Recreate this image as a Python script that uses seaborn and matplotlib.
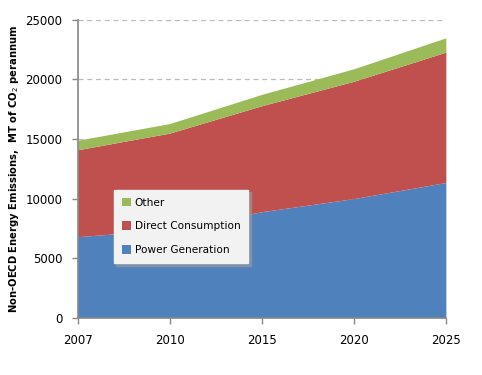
import matplotlib
matplotlib.use("Agg")
import matplotlib.pyplot as plt
import seaborn as sns
import numpy as np
import pandas as pd
from matplotlib.patches import Patch

years = ["2007", "2010", "2015", "2020", "2025"]
power_generation = [6800, 7400, 8900, 10000, 11350]
direct_consumption = [7300, 8100, 8900, 9850, 10950]
other = [800, 800, 950, 1050, 1200]
y_ticks = [0, 5000, 10000, 15000, 20000, 25000]

series_names = ["Power Generation", "Direct Consumption", "Other"]
colors = ["#4F81BD", "#C0504D", "#9BBB59"]

sns.set_style("white")
plt.rcParams["font.family"] = ["DejaVu Sans"]
plt.rcParams["text.color"] = "black"
plt.rcParams["xtick.labelcolor"] = "black"
plt.rcParams["ytick.labelcolor"] = "black"

df = pd.DataFrame({"year": years,
                   "Power Generation": power_generation,
                   "Direct Consumption": direct_consumption,
                   "Other": other})
x = np.arange(len(years))

fig = plt.figure(figsize=(4.82, 3.75), dpi=100)
ax = fig.add_axes([0.161, 0.1528, 0.764, 0.794])

for yv in y_ticks[1:]:
    ax.axhline(yv, color="#BBBBBB", lw=0.9, ls=(0, (4, 3)), zorder=0)

base = np.zeros(len(years))
for name, c in zip(series_names, colors):
    top = base + df[name].to_numpy()
    ax.fill_between(x, base, top, color=c, lw=0, zorder=2)
    base = top

ax.set_xlim(0, len(years) - 1)
ax.set_ylim(0, 25000)
ax.set_xticks(x)
ax.set_xticklabels(years)
ax.set_yticks(y_ticks)
ax.tick_params(axis="x", length=4, width=1, color="#888888", pad=8, labelsize=8.5, direction="out", bottom=True)
ax.tick_params(axis="y", length=4, width=1, color="#888888", pad=7, labelsize=8.5, direction="out", left=True)
for s in ["top", "right"]:
    ax.spines[s].set_visible(False)
for s in ["left", "bottom"]:
    ax.spines[s].set_color("#888888")
    ax.spines[s].set_linewidth(1.2)
    ax.spines[s].set_zorder(5)

ax.set_ylabel("Non-OECD Energy Emissions,  MT of CO$_2$ perannum",
              fontsize=7.2, fontweight="bold", color="black")
ax.yaxis.set_label_coords(-0.153, 0.50)

handles = [Patch(facecolor=c, edgecolor="none") for c in colors][::-1]
labels = series_names[::-1]
leg = ax.legend(handles, labels, loc="upper left", bbox_to_anchor=(0.098, 0.43),
                frameon=True, fancybox=False, shadow={"color": "#9A9A9A", "alpha": 0.6},
                fontsize=7.6,
                handlelength=0.85, handleheight=0.85, handletextpad=0.4,
                labelspacing=1.3, borderpad=0.75, borderaxespad=0)
leg.get_frame().set_facecolor("#F2F2F2")
leg.get_frame().set_edgecolor("#F2F2F2")
leg.set_zorder(10)

fig.savefig("out.png", dpi=100)
